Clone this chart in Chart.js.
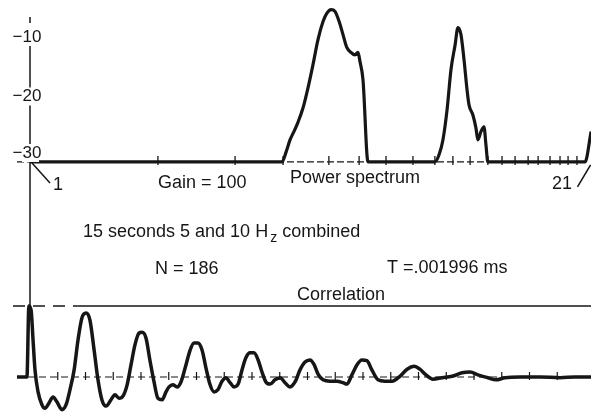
<!DOCTYPE html>
<html>
<head>
<meta charset="utf-8">
<script src="https://cdn.jsdelivr.net/npm/chart.js@4/dist/chart.umd.min.js"></script>
<style>
  html, body { margin: 0; padding: 0; background: #fff; }
  #wrap { position: relative; width: 591px; height: 416px; }
</style>
</head>
<body>
<div id="wrap"><canvas id="chart" width="591" height="416"></canvas></div>
<script>
// Power spectrum: channel index (1..21) against level in dB
const specX = [1, 10.08, 10.23, 10.37, 10.51, 10.66, 10.84, 11.02, 11.20, 11.38, 11.56, 11.70, 11.85,
  11.99, 12.14, 12.28, 12.42, 12.57, 12.71, 12.82, 12.89, 13.00, 13.18, 15.59, 15.74, 15.88, 16.03,
  16.17, 16.32, 16.42, 16.53, 16.64, 16.75, 16.82, 16.96, 17.07, 17.14, 17.25, 17.36, 17.43, 17.50,
  21.0, 21.22];
const specY = [-31, -31, -29.3, -27.3, -25.9, -24.3, -21.9, -18.5, -14.6, -10.4, -7.4, -6.0, -5.4,
  -5.7, -7.4, -9.6, -11.8, -12.6, -13.0, -12.6, -14.1, -17.2, -31, -31, -29.8, -27.3, -22.2,
  -15.5, -11.3, -8.4, -9.6, -13.8, -18.9, -21.4, -23.1, -25.3, -27.3, -25.9, -25.1, -28.1, -31,
  -31, -25.9];
const specTicks = [5.61, 8.39, 10.12, 11.77, 12.86, 13.83, 14.80, 15.59, 16.24, 16.86, 17.50,
  18.01, 18.48, 18.95, 19.31, 19.74, 20.10, 20.39, 20.71];
const specLevels = [-10, -20, -30];
const specFloor = -31;

// Correlation: lag against normalised value
const corrLag = [-0.47, -0.11, -0.04, 0.04, 0.11, 0.18, 0.29, 0.43, 0.54, 0.68, 0.83, 0.97, 1.15,
  1.30, 1.44, 1.59, 1.73, 1.87, 2.02, 2.16, 2.31, 2.45, 2.59, 2.74, 2.92, 3.06, 3.21, 3.35, 3.50,
  3.64, 3.78, 3.93, 4.04, 4.18, 4.32, 4.47, 4.61, 4.76, 4.90, 5.01, 5.15, 5.30, 5.44, 5.62, 5.77,
  5.91, 6.05, 6.20, 6.34, 6.49, 6.63, 6.77, 6.92, 7.06, 7.21, 7.35, 7.50, 7.64, 7.78, 7.93, 8.07,
  8.22, 8.36, 8.50, 8.65, 8.83, 9.01, 9.19, 9.37, 9.55, 9.73, 9.91, 10.09, 10.23, 10.38, 10.56,
  10.81, 11.06, 11.28, 11.42, 11.60, 11.78, 11.96, 12.14, 12.32, 12.54, 12.79, 13.05, 13.33, 13.59,
  13.84, 14.05, 14.27, 14.52, 14.85, 15.21, 15.57, 15.86, 16.14, 16.50, 16.79, 17.12, 17.66, 18.38,
  19.10, 19.64, 20.22];
const corrVal = [0, 0, 1.0, 0.94, 0.52, 0.10, -0.21, -0.39, -0.44, -0.37, -0.28, -0.35, -0.46,
  -0.39, -0.18, 0.10, 0.52, 0.83, 0.90, 0.80, 0.38, -0.04, -0.32, -0.41, -0.32, -0.25, -0.30, -0.27, -0.11,
  0.17, 0.45, 0.62, 0.63, 0.55, 0.24, -0.07, -0.30, -0.32, -0.21, -0.14, -0.11, -0.14, -0.07, 0.17, 0.38,
  0.48, 0.48, 0.38, 0.13, -0.11, -0.21, -0.18, -0.06, -0.01, -0.08, -0.14, -0.10, 0.10, 0.27, 0.34, 0.34,
  0.24, 0.07, -0.07, -0.10, -0.04, -0.01, -0.08, -0.14, -0.07, 0.10, 0.21, 0.24, 0.18, 0.04, -0.04,
  -0.06, -0.06, -0.08, -0.10, 0.03, 0.17, 0.24, 0.23, 0.10, -0.04, -0.06, -0.06, 0.01, 0.11,
  0.15, 0.11, 0.03, -0.03, -0.01, 0.01, 0.06, 0.07, 0.03, -0.01, -0.04, -0.01, 0, 0,
  -0.01, 0, 0];
const corrTicks = [1, 2, 3, 4, 5, 6, 7, 8, 9, 10, 11, 12, 13, 14, 15, 16, 17, 18, 19];

const INK = '#161616';
const FONT = '"Liberation Sans", Arial, sans-serif';

// scale range so that value v1 sits at pixel p1 and v2 at p2 over a span of size pixels
function range(v1, p1, v2, p2, size, flip) {
  const k = (v2 - v1) / (p2 - p1);
  if (flip) return { min: v1 + (size - p1) * k, max: v1 - p1 * k };
  return { min: v1 - p1 * k, max: v1 + (size - p1) * k };
}
const W = 591, H = 416;
const xr = range(1, 30, 21, 585, W, false);
const yr = range(-10, 37, -30, 156, H, true);
const y2r = range(1, 306, 0, 377, H, true);

function line(ctx, x1, y1, x2, y2, w, dash) {
  ctx.save();
  ctx.strokeStyle = INK;
  ctx.lineWidth = w;
  ctx.setLineDash(dash || []);
  ctx.beginPath();
  ctx.moveTo(x1, y1);
  ctx.lineTo(x2, y2);
  ctx.stroke();
  ctx.restore();
}

function text(ctx, s, x, y, size, align) {
  ctx.font = size + 'px ' + FONT;
  ctx.textAlign = align || 'left';
  ctx.textBaseline = 'middle';
  ctx.fillStyle = INK;
  ctx.fillText(s, x, y);
  return ctx.measureText(s).width;
}

const frame = {
  id: 'frame',
  beforeDatasetsDraw(chart) {
    const ctx = chart.ctx;
    const { x, x2, y, y2 } = chart.scales;
    const x0 = x.getPixelForValue(1);
    const base = y.getPixelForValue(specFloor);
    const c0 = y2.getPixelForValue(0);
    const c1 = y2.getPixelForValue(1);

    // vertical axis running from spectrum top down to the correlation peak
    line(ctx, x0, 17, x0, 23, 1.5);
    line(ctx, x0, 46, x0, c1, 1.5);

    // spectrum baseline + ticks
    line(ctx, 17, base, x.getPixelForValue(21), base, 1.2, [7, 3]);
    specTicks.forEach(t => {
      const px = x.getPixelForValue(t);
      line(ctx, px, base - 6, px, base + 3, 1.3);
    });

    // correlation reference lines
    line(ctx, 13, c1, x2.getPixelForValue(1.7), c1, 1.3, [12, 8]);
    line(ctx, x2.getPixelForValue(1.7), c1, W, c1, 1.5);
    line(ctx, 17, c0, W, c0, 1.2, [7, 4]);
    corrTicks.forEach(t => {
      const px = x2.getPixelForValue(t);
      line(ctx, px, c0 - 5, px, c0 + 3, 1.2);
    });

    // pointer strokes for index labels
    line(ctx, x0 + 2, base + 1, x0 + 20, base + 21, 1.5);
    line(ctx, x.getPixelForValue(20.73), base + 25, x.getPixelForValue(21.2), base + 3, 1.5);
  },
  afterDatasetsDraw(chart) {
    const ctx = chart.ctx;
    const { x, y } = chart.scales;
    const x0 = x.getPixelForValue(1);
    const base = y.getPixelForValue(specFloor);

    // level labels sit on the axis, breaking the line
    specLevels.forEach((v, i) => {
      const py = y.getPixelForValue(v) - (i === 2 ? 3 : 0);
      ctx.fillStyle = '#fff';
      ctx.fillRect(x0 - 8, py - 9, 17, 18);
      text(ctx, '\u2212' + Math.abs(v), x0 - 3, py, 17, 'center');
    });

    text(ctx, '1', 53, base + 23, 18);
    text(ctx, 'Gain = 100', 158, base + 21, 18);
    text(ctx, 'Power spectrum', 290, base + 16, 18);
    text(ctx, '21', 552, base + 22, 18);

    let cx = 83;
    cx += text(ctx, '15 seconds 5 and 10 H', cx, 232, 18);
    cx += text(ctx, 'z', cx + 2, 238, 14) + 2;
    text(ctx, ' combined', cx, 232, 18);

    text(ctx, 'N = 186', 155, 269, 18);
    text(ctx, 'T =.001996 ms', 387, 268, 18);
    text(ctx, 'Correlation', 297, 295, 18);
  }
};

new Chart(document.getElementById('chart').getContext('2d'), {
  type: 'line',
  data: {
    datasets: [{
      label: 'Power spectrum',
      data: specX.map((v, i) => ({ x: v, y: specY[i] })),
      xAxisID: 'x',
      yAxisID: 'y',
      borderColor: INK,
      borderWidth: 3.2,
      pointRadius: 0,
      cubicInterpolationMode: 'monotone',
      borderJoinStyle: 'round'
    }, {
      label: 'Correlation',
      data: corrLag.map((v, i) => ({ x: v, y: corrVal[i] })),
      xAxisID: 'x2',
      yAxisID: 'y2',
      borderColor: INK,
      borderWidth: 3.5,
      pointRadius: 0,
      cubicInterpolationMode: 'monotone',
      borderJoinStyle: 'round'
    }]
  },
  options: {
    responsive: false,
    animation: false,
    layout: { padding: 0 },
    plugins: { legend: { display: false }, tooltip: { enabled: false } },
    scales: {
      x: { type: 'linear', display: false, min: xr.min, max: xr.max },
      x2: { type: 'linear', display: false, min: xr.min - 1, max: xr.max - 1 },
      y: { type: 'linear', display: false, min: yr.min, max: yr.max },
      y2: { type: 'linear', display: false, min: y2r.min, max: y2r.max }
    }
  },
  plugins: [frame]
});
</script>
</body>
</html>
